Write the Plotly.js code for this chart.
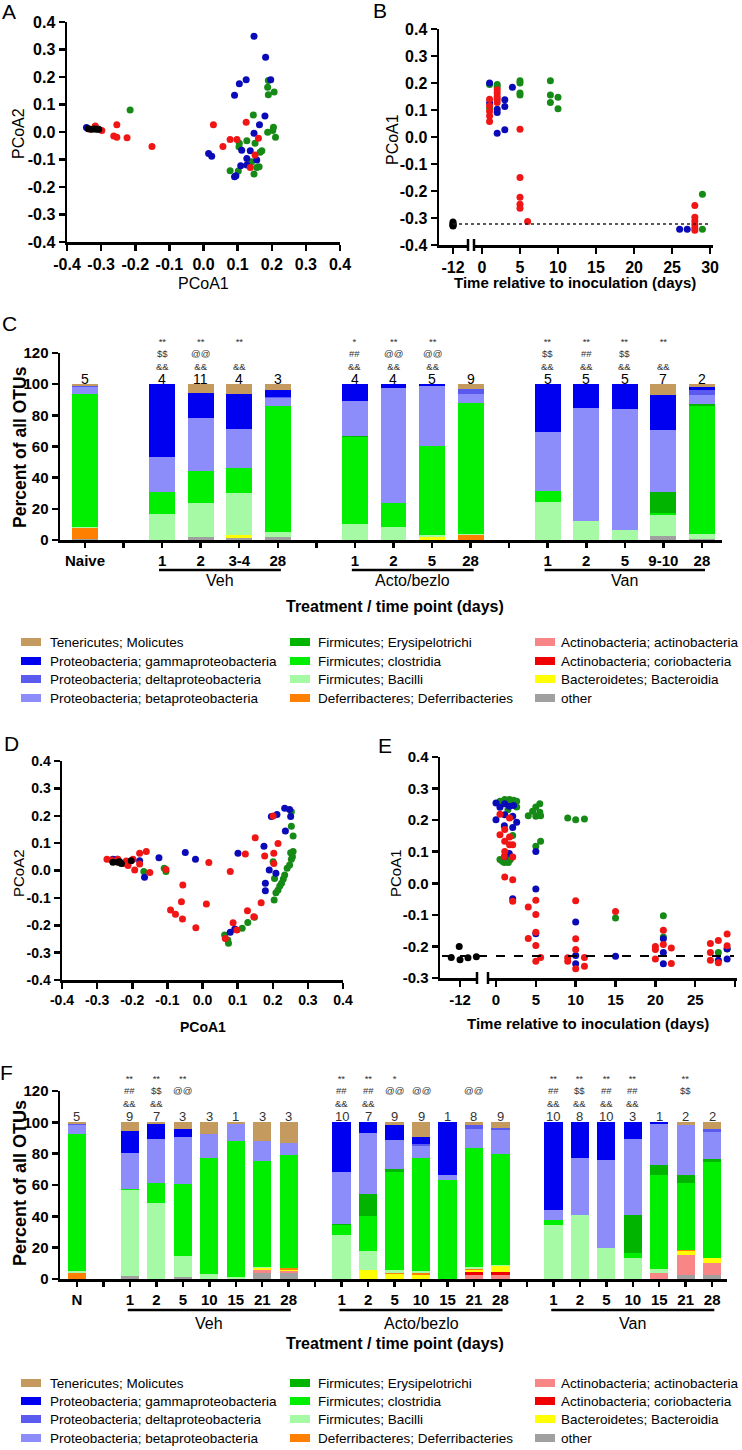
<!DOCTYPE html>
<html><head><meta charset="utf-8">
<script src="https://cdn.plot.ly/plotly-3.0.1.min.js"></script>
<style>html,body{margin:0;padding:0;background:#fff}</style>
</head><body><div id="chart" style="width:742px;height:1450px"></div>
<script>
// ---------------- DATA ----------------
// Panel A (PCoA2 vs PCoA1, shorter study)
const A_naive_x = [-0.338,-0.328,-0.320,-0.313,-0.307];
const A_naive_y = [0.012,0.010,0.011,0.010,0.010];
const A_blue_x = [0.148,0.182,0.197,0.125,0.105,0.091,0.180,0.164,0.148,0.137,0.112,0.156,0.127,0.127,0.109,0.091,0.095,0.015,0.024,-0.343];
const A_blue_y = [0.348,0.272,0.190,0.190,0.175,0.134,0.058,0.026,-0.005,-0.068,-0.066,-0.102,-0.096,-0.120,-0.123,-0.163,-0.159,-0.078,-0.088,0.016];
const A_green_x = [-0.215,0.190,0.188,0.190,0.207,0.146,0.205,0.188,0.203,0.211,0.127,0.105,0.104,0.151,0.171,0.166,0.141,0.163,0.156,0.078,0.102,0.148];
const A_green_y = [0.080,0.187,0.163,0.135,0.145,0.062,0.017,-0.001,0.005,-0.019,-0.032,-0.041,-0.054,-0.041,-0.068,-0.074,-0.108,-0.126,-0.129,-0.141,-0.142,-0.153];
const A_red_x = [-0.332,-0.317,-0.298,-0.254,-0.263,-0.254,-0.224,-0.151,0.029,0.125,0.078,0.098,0.057,0.161,0.151,0.137];
const A_red_y = [0.010,0.022,0.005,0.026,-0.015,-0.019,-0.021,-0.053,0.026,0.035,-0.027,-0.027,-0.053,-0.023,-0.084,-0.129];

// Panel B (PCoA1 vs time)
const B_naive_x = [-12,-12,-12,-12,-12];
const B_naive_y = [-0.315,-0.320,-0.325,-0.330,-0.328];
const B_blue_x = [1,1,2,2,2,3,3,3,4,26,27];
const B_blue_y = [0.200,0.126,0.103,0.091,0.014,0.138,0.113,0.027,0.184,-0.342,-0.342];
const B_green_x = [1,1,2,2,5,5,5,5,9,9,9,10,10,29,29];
const B_green_y = [0.194,0.107,0.194,0.185,0.208,0.200,0.163,0.156,0.208,0.156,0.128,0.147,0.105,-0.212,-0.342];
const B_red_x = [1,1,1,1,1,2,2,2,2,2,5,5,5,5,5,6,28,28,28,28,28,28];
const B_red_y = [0.140,0.116,0.095,0.078,0.057,0.175,0.163,0.150,0.140,0.128,0.029,-0.150,-0.223,-0.249,-0.264,-0.313,-0.254,-0.297,-0.311,-0.323,-0.336,-0.345];
const B_naive_mean = -0.322;

// Panel D
const D_naive_x = [-0.255,-0.241,-0.231,-0.236,-0.203];
const D_naive_y = [0.030,0.030,0.026,0.032,0.036];
const D_blue_x = [-0.255,-0.243,-0.179,-0.165,-0.124,-0.049,-0.020,0.101,0.175,0.190,0.179,0.179,0.209,0.236,0.234,0.212,0.196,0.248,0.251,0.079,0.092];
const D_blue_y = [0.041,0.041,0.036,-0.025,0.047,0.066,0.041,0.063,0.089,0.002,-0.047,-0.074,-0.010,0.144,0.227,0.205,0.197,0.223,0.197,-0.226,-0.214];
const D_green_x = [-0.167,-0.109,-0.104,0.063,0.072,0.074,0.113,0.129,0.148,0.204,0.209,0.215,0.220,0.225,0.230,0.234,0.241,0.248,0.253,0.256,0.251,0.258,0.258,0.253,0.253,0.201,0.205];
const D_green_y = [-0.004,0.008,-0.004,-0.236,-0.254,-0.266,-0.211,-0.190,-0.171,-0.108,-0.081,-0.071,-0.057,-0.047,-0.031,-0.016,0.008,0.020,0.041,0.050,0.065,0.069,0.126,0.162,0.215,0.032,-0.029];
const D_red_x = [-0.272,-0.259,-0.241,-0.222,-0.212,-0.198,-0.179,-0.160,-0.179,-0.193,-0.150,-0.104,0.018,0.079,-0.056,-0.060,-0.091,-0.077,-0.057,-0.019,0.011,0.087,0.098,0.065,0.128,0.146,0.167,0.122,0.150,0.177,0.203,0.203,0.215,0.201,-0.217];
const D_red_y = [0.041,0.038,0.041,0.026,0.018,0.041,0.063,0.069,0.024,0.002,-0.007,0.004,0.029,-0.004,-0.053,-0.114,-0.144,-0.160,-0.177,-0.209,-0.122,-0.191,-0.217,-0.248,-0.147,-0.169,-0.118,0.060,0.120,0.053,0.063,0.026,0.099,0.199,0.035];

// Panel E
const E_naive_x = [-13.1,-12.1,-12.0,-11.0,-9.95];
const E_naive_y = [-0.235,-0.200,-0.242,-0.236,-0.233];
const E_blue_x = [0,0,0.5,1.1,1.1,1.05,1.1,1.67,1.67,2.2,2.1,2.1,2.6,2.1,5,5,5,10,10,10,15,21,21,21,29,29,27.9];
const E_blue_y = [0.254,0.201,0.241,0.252,0.217,0.182,0.085,0.094,0.244,0.246,0.212,0.177,0.193,-0.049,0.101,-0.018,-0.160,-0.123,-0.229,-0.255,-0.231,-0.176,-0.219,-0.255,-0.207,-0.240,-0.244];
const E_green_x = [0.5,1.1,1.7,2.2,2.6,2.6,1.5,0.5,1.05,1.55,2.1,1.8,0.8,4.05,4.6,5,5,5.5,5.5,5.6,5,5.6,9,10,11.1,15,21,21,29,27.9];
const E_green_y = [0.260,0.265,0.265,0.263,0.260,0.242,0.233,0.075,0.066,0.066,0.151,0.075,0.070,0.214,0.228,0.242,0.212,0.252,0.225,0.214,0.117,0.133,0.207,0.201,0.204,-0.110,-0.103,-0.170,-0.208,-0.219];
const E_red_x = [0.5,0.5,1.1,1.1,1.1,1.1,1.7,1.7,1.7,2.1,2.1,2.1,2.1,1.05,4.05,4.05,5,5,5,5,5,5.6,10,10,10,10,9,9,11.1,11.1,15,20,20,20,21,21,22,22,26.9,26.9,26.9,27.9,27.9,29,29];
const E_red_y = [0.219,0.154,0.170,0.133,0.101,0.020,0.207,0.147,0.122,0.083,0.122,0.011,-0.057,0.085,-0.075,-0.175,-0.054,-0.099,-0.155,-0.197,-0.247,-0.235,-0.055,-0.176,-0.210,-0.271,-0.236,-0.247,-0.235,-0.263,-0.089,-0.200,-0.210,-0.240,-0.149,-0.194,-0.205,-0.254,-0.191,-0.219,-0.244,-0.181,-0.252,-0.161,-0.198];
const E_naive_mean = -0.23;

// Taxa (legend order) and colours
const taxa = ["Tenericutes; Molicutes","Proteobacteria; gammaproteobacteria","Proteobacteria; deltaproteobacteria","Proteobacteria; betaproteobacteria",
  "Firmicutes; Erysipelotrichi","Firmicutes; clostridia","Firmicutes; Bacilli","Deferribacteres; Deferribacteries",
  "Actinobacteria; actinobacteria","Actinobacteria; coriobacteria","Bacteroidetes; Bacteroidia","other"];
const taxaColors = ['#C49A5E','#0000F0','#5A5AF0','#8C8CFA','#00B400','#00EE00','#A6FAA6','#FF8000','#F88686','#F00000','#FFFF00','#A0A0A0'];

// Panel C bars
const C_labels = ["Naive","1","2","3-4","28","1","2","5","28","1","2","5","9-10","28"];
const C_groups = ["Naive","Veh","Veh","Veh","Veh","Acto/bezlo","Acto/bezlo","Acto/bezlo","Acto/bezlo","Van","Van","Van","Van","Van"];
const C_n = ["5","4","11","4","3","4","4","5","9","5","5","5","7","2"];
const C_sig1 = ["","**","**","**","","*","**","**","","**","**","**","**",""];
const C_sig2 = ["","$$","@@","","","##","@@","@@","","$$","##","$$","",""];
const C_sig3 = ["","&&","&&","&&","","&&","&&","&&","","&&","&&","&&","&&",""];
const C_teneri = [1,0,5.5,6.5,4, 0,0,0,3, 0,0,0,7,2];
const C_gamma  = [0,47,16.5,22.5,4, 11,2.5,1,0, 31,15.5,16,22.5,1.5];
const C_delta  = [1,0,0,0,1, 0,0,0,3.5, 0,0,0,0,3.5];
const C_beta   = [4.5,22,34,25,5, 22,74,38.5,5.5, 37.5,72,77.5,39.5,6];
const C_erysip = [0,0,0,0,0, 1,0,0,0, 0,0,0,13.5,1];
const C_clostr = [85,14,20,16,81, 56,15,57,84, 7,0,0,1.5,82];
const C_bacilli= [1,17,22,27,3, 10,8.5,1.5,1, 24.5,12.5,6.5,13.5,3.5];
const C_deferri= [7,0,0,0,0, 0,0,0,3, 0,0,0,0,0];
const C_actino = [0,0,0,0,0, 0,0,0,0, 0,0,0,0,0];
const C_corio  = [0,0,0,0,0, 0,0,0,0, 0,0,0,0,0];
const C_bactero= [0,0,0,2,0, 0,0,2,0, 0,0,0,0,0];
const C_other  = [0.5,0,2,1,2, 0,0,0,0, 0,0,0,2.5,0.5];

// Panel F bars
const F_labels = ["N","1","2","5","10","15","21","28","1","2","5","10","15","21","28","1","2","5","10","15","21","28"];
const F_groups = ["N","Veh","Veh","Veh","Veh","Veh","Veh","Veh","Acto/bezlo","Acto/bezlo","Acto/bezlo","Acto/bezlo","Acto/bezlo","Acto/bezlo","Acto/bezlo","Van","Van","Van","Van","Van","Van","Van"];
const F_n = ["5","9","7","3","3","1","3","3","10","7","9","9","1","8","9","10","8","10","3","1","2","2"];
const F_sig1 = ["","**","**","**","","","","","**","**","*","","","","","**","**","**","**","","**",""];
const F_sig2 = ["","##","$$","@@","","","","","##","##","@@","@@","","@@","","##","$$","##","##","","$$",""];
const F_sig3 = ["","&&","&&","","","","","","&&","&&","","","","","","&&","&&","&&","&&","","",""];
const F_teneri = [1, 5.5,1,4.5,7.5,1,12,13, 0,0,1.5,9.5,0,2,3.5, 0,0,0,0,0,1.5,4];
const F_gamma  = [0, 14,9.5,5,0,0,0,0, 32,6.5,10,4.5,33.5,0,0, 56,23,24,10.5,1.2,0,0];
const F_delta  = [0.5, 0,0,0,0,0,0,0.5, 0,0,0,1,0,2,1.5, 0,0,0,0,0,0,2];
const F_beta   = [6, 23,28.5,30,15.5,11,12.5,7.5, 33,39.5,18,7.5,3,12.5,15, 6.5,36,56.5,48.5,26,32,17.5];
const F_erysip = [0, 0,0,0,0,0,0,0, 0.5,14,2.5,0.5,0,0,0.5, 0,0,0,24.5,6.5,5,1.5];
const F_clostr = [87.5, 1,12.5,45.5,74,86.5,68,72, 6.5,22,62.5,72,63.5,76,70.5, 3,0,0,3,60,43,61.5];
const F_bacilli= [1, 54.5,48.5,13.5,3,1.5,0.5,0, 28,12.5,1.5,1,0,1,1, 34.5,41,19.5,13.5,2.5,0,0];
const F_deferri= [4, 0,0,0,0,0,0,1, 0,0,1,1.5,0,0.5,0, 0,0,0,0,0,0.5,0];
const F_actino = [0, 0,0,0,0,0,2,1, 0,0,0,0,0,2.5,2.5, 0,0,0,0,3.8,13,7.5];
const F_corio  = [0, 0,0,0,0,0,0,0, 0,0,0,0,0,2,2, 0,0,0,0,0,0,0.5];
const F_bactero= [0, 0,0,0,0,0,1,1, 0,5.5,3,2.5,0,1.5,3.5, 0,0,0,0,0,2.5,3];
const F_other  = [0, 2,0,1.5,0,0,4,4, 0,0,0,0,0,0,0, 0,0,0,0,0,2.5,2.5];

// ---------------- HELPERS ----------------
const W=742,H=1450;
const FONT='"Liberation Sans", Arial, sans-serif';
const px=v=>v/W, py=v=>1-v/H;
const hd=(a,b)=>[a/W,b/W];
const vd=(t,b)=>[1-b/H,1-t/H];
const COL_NAIVE='#000000', COL_RED='#F01616', COL_BLUE='#0A0AB8', COL_GREEN='#168A16';

function steps(lo,hi,st){const v=[];for(let t=lo;t<=hi+1e-9;t+=st)v.push(Math.round(t*100)/100);return v;}
function axis(extra){
  return Object.assign({showgrid:false,zeroline:false,showline:true,linecolor:'#000',linewidth:2.5,
    ticks:'outside',ticklen:6,tickwidth:2.5,tickcolor:'#000',
    tickfont:{family:FONT,size:16,color:'#000',weight:'bold'},fixedrange:true},extra);
}
function decAxis(lo,hi,st,extra){const v=steps(lo,hi,st);return axis(Object.assign({tickmode:'array',tickvals:v,ticktext:v.map(t=>t.toFixed(1))},extra));}
function intAxis(vals,extra){return axis(Object.assign({tickmode:'array',tickvals:vals,ticktext:vals.map(String)},extra));}

const traces=[];
function pts(x,y,color,xa,ya){traces.push({type:'scatter',mode:'markers',x:x,y:y,xaxis:xa,yaxis:ya,cliponaxis:false,
  marker:{color:color,size:7},hoverinfo:'x+y',showlegend:false});}

// Panel A
pts(A_green_x,A_green_y,COL_GREEN,'x','y'); pts(A_blue_x,A_blue_y,COL_BLUE,'x','y');
pts(A_red_x,A_red_y,COL_RED,'x','y'); pts(A_naive_x,A_naive_y,COL_NAIVE,'x','y');
// Panel B
pts(B_green_x,B_green_y,COL_GREEN,'x3','y2'); pts(B_blue_x,B_blue_y,COL_BLUE,'x3','y2');
pts(B_red_x,B_red_y,COL_RED,'x3','y2'); pts(B_naive_x,B_naive_y,COL_NAIVE,'x2','y2');
// Panel D
pts(D_green_x,D_green_y,COL_GREEN,'x5','y4'); pts(D_blue_x,D_blue_y,COL_BLUE,'x5','y4');
pts(D_red_x,D_red_y,COL_RED,'x5','y4'); pts(D_naive_x,D_naive_y,COL_NAIVE,'x5','y4');
// Panel E
pts(E_green_x,E_green_y,COL_GREEN,'x7','y5'); pts(E_blue_x,E_blue_y,COL_BLUE,'x7','y5');
pts(E_red_x,E_red_y,COL_RED,'x7','y5'); pts(E_naive_x,E_naive_y,COL_NAIVE,'x6','y5');

// Bar positions: a blank slot between treatment groups
function positions(groups){const p=[];let s=0,prev=null;groups.forEach(g=>{if(prev!==null&&g!==prev)s+=1;p.push(s);s+=1;prev=g;});return p;}
const C_pos=positions(C_groups), F_pos=positions(F_groups);
const C_series=[C_teneri,C_gamma,C_delta,C_beta,C_erysip,C_clostr,C_bacilli,C_deferri,C_actino,C_corio,C_bactero,C_other];
const F_series=[F_teneri,F_gamma,F_delta,F_beta,F_erysip,F_clostr,F_bacilli,F_deferri,F_actino,F_corio,F_bactero,F_other];
const stackOrder=[11,8,9,10,7,6,5,4,3,2,1,0]; // bottom -> top
stackOrder.forEach(k=>{
  traces.push({type:'bar',x:C_pos,y:C_series[k],width:0.67,name:taxa[k],marker:{color:taxaColors[k],line:{width:0}},xaxis:'x4',yaxis:'y3',showlegend:false});
  traces.push({type:'bar',x:F_pos,y:F_series[k],width:0.69,name:taxa[k],marker:{color:taxaColors[k],line:{width:0}},xaxis:'x8',yaxis:'y6',showlegend:false});
});

function catTicks(pos,labels){const n=pos[pos.length-1];const vals=[],txt=[];for(let i=0;i<=n;i++){vals.push(i);const j=pos.indexOf(i);txt.push(j>=0?labels[j]:'');}return {tickvals:vals,ticktext:txt};}

// ---------------- ANNOTATIONS / SHAPES ----------------
const annotations=[], shapes=[];
function txt(text,x,y,o){annotations.push(Object.assign({text:text,x:px(x),y:py(y),xref:'paper',yref:'paper',showarrow:false,
  xanchor:'center',yanchor:'middle',font:{family:FONT,size:16,color:'#000'}},o||{}));}
function line(x0,y0,x1,y1,o){shapes.push(Object.assign({type:'line',xref:'paper',yref:'paper',x0:px(x0),x1:px(x1),y0:py(y0),y1:py(y1),line:{color:'#000',width:2.5}},o||{}));}

// panel letters
const LET={family:FONT,size:21,color:'#000'};
txt('A',9,11,{font:LET}); txt('B',380,10,{font:LET}); txt('C',9,323,{font:LET});
txt('D',11,743,{font:LET}); txt('E',385,745,{font:LET}); txt('F',6,1072,{font:LET});

// axis titles
txt('PCoA1',203,283,{font:{family:FONT,size:16,color:'#000'}});
txt('PCoA2',18,134,{textangle:-90,font:{family:FONT,size:16,color:'#000'}});
txt('PCoA1',393,140,{textangle:-90,font:{family:FONT,size:16,color:'#000'}});
txt('Time relative to inoculation (days)',575,282,{font:{family:FONT,size:15,color:'#000',weight:'bold'}});
txt('Percent of all OTUs',20,447,{textangle:-90,font:{family:FONT,size:17.5,color:'#000',weight:'bold'}});
txt('Treatment / time point (days)',395,606,{font:{family:FONT,size:16,color:'#000',weight:'bold'}});
txt('PCoA2',18,873,{textangle:-90,font:{family:FONT,size:15,color:'#000'}});
txt('PCoA1',203,1027,{font:{family:FONT,size:14,color:'#000',weight:'bold'}});
txt('PCoA1',395,873,{textangle:-90,font:{family:FONT,size:15,color:'#000'}});
txt('Time relative to inoculation (days)',588,1023,{font:{family:FONT,size:15,color:'#000',weight:'bold'}});
txt('Percent of all OTUs',20,1183,{textangle:-90,font:{family:FONT,size:18,color:'#000',weight:'bold'}});
txt('Treatment / time point (days)',395,1343,{font:{family:FONT,size:16,color:'#000',weight:'bold'}});

// bar top labels: n, and significance marks stacked as one multi-line text
function barLabels(pos,n,s1,s2,s3,xa,yN,ySig,nSize,nColor){
  pos.forEach((p,i)=>{
    annotations.push({text:n[i],x:p,y:py(yN),xref:xa,yref:'paper',showarrow:false,yanchor:'middle',font:{family:FONT,size:nSize,color:nColor}});
    const lines=[s1[i],s2[i],s3[i]];
    if(lines.some(s=>s)){
      annotations.push({text:lines.map(s=>s||'\u00a0').join('<br>'),x:p,y:py(ySig),xref:xa,yref:'paper',showarrow:false,
        yanchor:'middle',align:'center',font:{family:FONT,size:9.5,color:'#333'}});
    }
  });
}
barLabels(C_pos,C_n,C_sig1,C_sig2,C_sig3,'x4',379,354,14,'#000');
barLabels(F_pos,F_n,F_sig1,F_sig2,F_sig3,'x8',1116,1091,13,'#333');

// group underlines and names
function groupMarks(pos,groups,xa,yLine,yText){
  const uniq=[...new Set(groups)].filter(g=>groups.filter(x=>x===g).length>1);
  uniq.forEach(g=>{
    const ps=pos.filter((p,i)=>groups[i]===g);
    const a=Math.min(...ps)-0.08,b=Math.max(...ps)+0.08;
    shapes.push({type:'line',xref:xa,yref:'paper',x0:a,x1:b,y0:py(yLine),y1:py(yLine),line:{color:'#000',width:2.5}});
    annotations.push({text:g,x:(Math.min(...ps)+Math.max(...ps))/2,y:py(yText),xref:xa,yref:'paper',showarrow:false,yanchor:'middle',font:{family:FONT,size:16,color:'#000'}});
  });
}
groupMarks(C_pos,C_groups,'x4',570,580);
groupMarks(F_pos,F_groups,'x8',1310,1323);

// axis breaks
[468,474].forEach(x=>line(x,239,x,251));
[477,488].forEach(x=>line(x,972,x,984));
// reference lines (naive mean)
shapes.push({type:'line',xref:'paper',yref:'y2',x0:px(453),x1:px(709),y0:B_naive_mean,y1:B_naive_mean,line:{color:'#222',width:1.6,dash:'dot'}});
shapes.push({type:'line',xref:'paper',yref:'y5',x0:px(442),x1:px(734),y0:E_naive_mean,y1:E_naive_mean,line:{color:'#000',width:2,dash:'dash'}});

// legends (3 columns x 4 rows)
function legend(rows){
  const colSw=[21,290,535], colTx=[48,316,559];
  taxa.forEach((t,i)=>{
    const c=Math.floor(i/4), r=i%4, y=rows[r];
    shapes.push({type:'rect',xref:'paper',yref:'paper',x0:px(colSw[c]),x1:px(colSw[c]+20),y0:py(y+4),y1:py(y-4),fillcolor:taxaColors[i],line:{width:0}});
    annotations.push({text:t,x:px(colTx[c]),y:py(y),xref:'paper',yref:'paper',showarrow:false,xanchor:'left',yanchor:'middle',font:{family:FONT,size:13.5,color:'#000'}});
  });
}
legend([642,661,679,698]);
legend([1383,1401,1419,1438]);

const Ct=catTicks(C_pos,C_labels), Ft=catTicks(F_pos,F_labels);

const layout={
  width:W,height:H,margin:{l:0,r:0,t:0,b:0},paper_bgcolor:'#fff',plot_bgcolor:'rgba(0,0,0,0)',
  showlegend:false,barmode:'stack',font:{family:FONT,color:'#000'},
  xaxis:decAxis(-0.4,0.4,0.1,{domain:hd(67,340),range:[-0.4,0.4],anchor:'y'}),
  yaxis:decAxis(-0.4,0.4,0.1,{domain:vd(22,242),range:[-0.4,0.4],anchor:'x'}),
  xaxis2:intAxis([-12],{domain:hd(439,468),range:[-13.84,-10.03],anchor:'y2'}),
  xaxis3:intAxis(steps(0,30,5),{domain:hd(474,713),range:[-1.05,30.39],anchor:'y2'}),
  yaxis2:decAxis(-0.4,0.4,0.1,{domain:vd(29,245),range:[-0.4,0.4],anchor:'x2'}),
  xaxis4:axis({domain:hd(60,722),range:[-0.648,16.52],anchor:'y3',ticklen:5,tickmode:'array',tickvals:Ct.tickvals,ticktext:Ct.ticktext,tickfont:{family:FONT,size:15,color:'#000',weight:'bold'}}),
  yaxis3:intAxis(steps(0,120,20),{domain:vd(353,540),range:[0,120],anchor:'x4',tickfont:{family:FONT,size:15,color:'#000',weight:'bold'}}),
  xaxis5:decAxis(-0.4,0.4,0.1,{domain:hd(62,343),range:[-0.4,0.4],anchor:'y4',tickfont:{family:FONT,size:14,color:'#000',weight:'bold'}}),
  yaxis4:decAxis(-0.4,0.4,0.1,{domain:vd(761,980),range:[-0.4,0.4],anchor:'x5',tickfont:{family:FONT,size:14,color:'#000',weight:'bold'}}),
  xaxis6:intAxis([-12],{domain:hd(440,477),range:[-14.51,-9.87],anchor:'y5',tickfont:{family:FONT,size:15,color:'#000',weight:'bold'}}),
  xaxis7:intAxis(steps(0,30,5),{domain:hd(488,737),range:[-1.0,30.24],anchor:'y5',tickfont:{family:FONT,size:15,color:'#000',weight:'bold'}}),
  yaxis5:decAxis(-0.3,0.4,0.1,{domain:vd(757,978),range:[-0.3,0.4],anchor:'x6',tickfont:{family:FONT,size:15,color:'#000',weight:'bold'}}),
  xaxis8:axis({domain:hd(60,727),range:[-0.64,24.56],anchor:'y6',ticklen:5,tickmode:'array',tickvals:Ft.tickvals,ticktext:Ft.ticktext,tickfont:{family:FONT,size:15,color:'#000',weight:'bold'}}),
  yaxis6:intAxis(steps(0,120,20),{domain:vd(1091,1279),range:[0,120],anchor:'x8',tickfont:{family:FONT,size:15,color:'#000',weight:'bold'}}),
  annotations:annotations,shapes:shapes
};
Plotly.newPlot('chart',traces,layout,{staticPlot:true,displayModeBar:false});
</script></body></html>
